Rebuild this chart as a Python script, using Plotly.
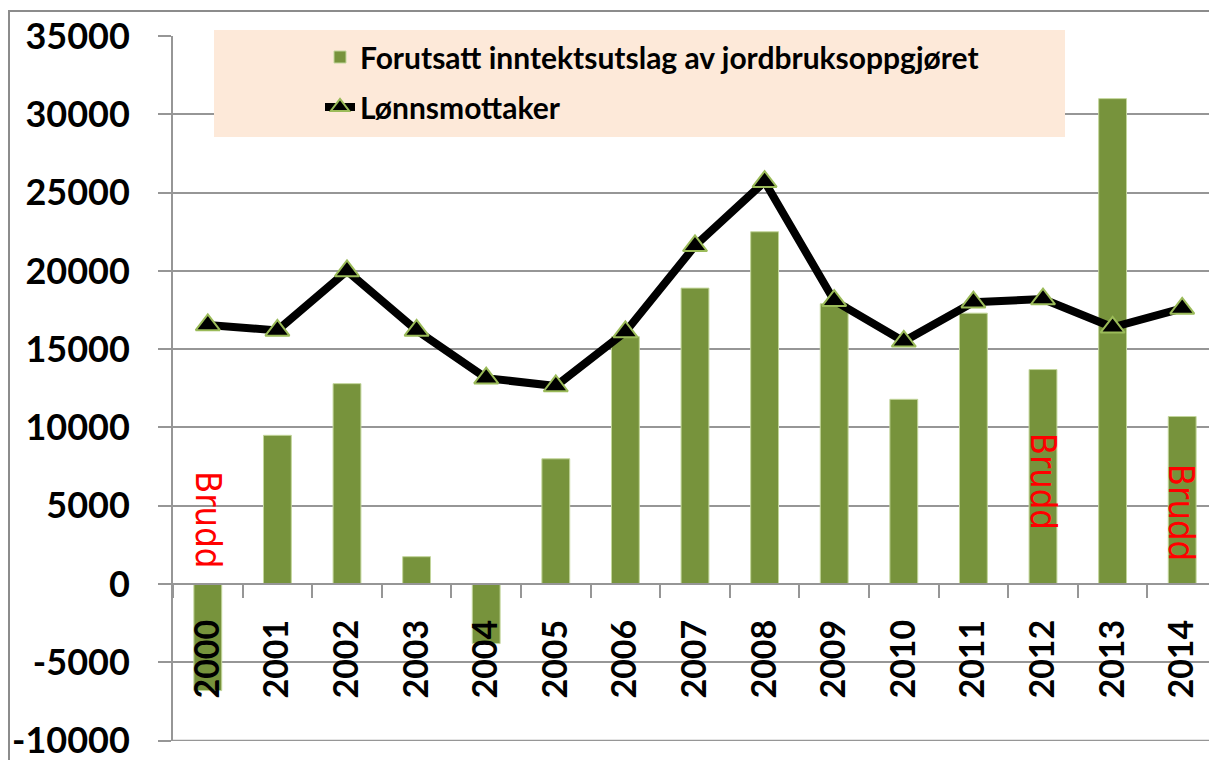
import plotly.graph_objects as go

# ---- data ----
years = ["2000", "2001", "2002", "2003", "2004", "2005", "2006", "2007",
         "2008", "2009", "2010", "2011", "2012", "2013", "2014"]
jordbruk = [-6800, 9500, 12800, 1750, -3800, 8000, 15800, 18900,
            22500, 17900, 11800, 17300, 13700, 31000, 10700]
lonnsmottaker = [16550, 16200, 20000, 16200, 13150, 12650, 16100, 21600,
                 25700, 18100, 15500, 18000, 18200, 16400, 17600]
y_tickvals = [-10000, -5000, 0, 5000, 10000, 15000, 20000, 25000, 30000, 35000]
y_ticktext = ["-10000", "-5000", "0", "5000", "10000", "15000", "20000",
              "25000", "30000", "35000"]
brudd_years = ["2000", "2012", "2014"]
brudd_text = "Brudd"

name_bar = "Forutsatt inntektsutslag av jordbruksoppgjøret"
name_line = "Lønnsmottaker"

# ---- layout geometry (window pixels; page body has an 8px margin) ----
OFF = 8
WIN_W, WIN_H = 1217, 760
W, H = WIN_W - OFF, WIN_H - OFF
PLOT_L, PLOT_R, PLOT_T, PLOT_B = 173, 1217, 36, 741   # window coords
ML = PLOT_L - OFF
MT = PLOT_T - OFF
MR = W - (PLOT_R - OFF)
MB = H - (PLOT_B - OFF)
PW, PH = W - ML - MR, H - MT - MB
Y_MIN, Y_MAX = -10020, 35000


def px_x(x):
    """window x -> paper x"""
    return (x - PLOT_L) / PW


def px_y(y):
    """window y -> paper y"""
    return (PLOT_B - y) / PH


GRID = "#969696"
FONT = "Lato"

fig = go.Figure()
fig.add_trace(go.Bar(
    x=years, y=jordbruk, name=name_bar, width=0.4,
    marker=dict(color="#77933C", line=dict(color="#C3D69B", width=1)),
    legendgroup="a",
))
fig.add_trace(go.Scatter(
    x=years, y=lonnsmottaker, name=name_line, mode="lines+markers",
    line=dict(color="black", width=8),
    marker=dict(symbol="triangle-up", size=21, color="black",
                line=dict(color="#9BBB59", width=2)),
    legendgroup="b",
))

brudd_y = [4100, 6600, 4600]
annotations = []
for yr, yy in zip(brudd_years, brudd_y):
    annotations.append(dict(
        x=years.index(yr), y=yy, xref="x", yref="y", text=brudd_text,
        showarrow=False, textangle=90,
        font=dict(family="DejaVu Sans Condensed, sans-serif",
                  size=36, color="red"),
    ))

shapes = [
    # outer chart border
    dict(type="rect", xref="paper", yref="paper",
         x0=px_x(9), x1=px_x(WIN_W + 30), y0=px_y(WIN_H + 30), y1=px_y(11),
         line=dict(color="#8C8C8C", width=2), fillcolor="rgba(0,0,0,0)",
         layer="below"),
    # bottom gridline (at the lowest tick)
    dict(type="line", xref="paper", yref="y",
         x0=0, x1=1, y0=y_tickvals[0], y1=y_tickvals[0],
         line=dict(color=GRID, width=2), layer="below"),
    # legend background box
    dict(type="rect", xref="paper", yref="paper",
         x0=px_x(214), x1=px_x(1065), y0=px_y(137), y1=px_y(30),
         line=dict(width=0), fillcolor="#FDE9D9", layer="above"),
]

zero_frac = (0 - Y_MIN) / (Y_MAX - Y_MIN)

fig.update_layout(
    width=W, height=H,
    margin=dict(l=ML, r=MR, t=MT, b=MB, pad=0),
    paper_bgcolor="white", plot_bgcolor="white",
    showlegend=True,
    legend=dict(
        x=px_x(320), y=px_y(31), xanchor="left", yanchor="top",
        bgcolor="rgba(0,0,0,0)",
        font=dict(family=FONT, size=30, color="black", weight="bold"),
        traceorder="grouped", tracegroupgap=8,
    ),
    xaxis=dict(
        type="category", anchor="free", position=zero_frac,
        showline=True, linecolor=GRID, linewidth=2,
        ticks="outside", ticklen=13, tickwidth=2, tickcolor=GRID,
        tickson="boundaries", showgrid=False, zeroline=False,
        tickangle=-90, ticklabelstandoff=21,
        tickfont=dict(family=FONT, size=34, color="black", weight="bold"),
        range=[-0.5, 14.5],
    ),
    yaxis=dict(
        range=[Y_MIN, Y_MAX], tickvals=y_tickvals, ticktext=y_ticktext,
        showgrid=True, gridcolor=GRID, gridwidth=2,
        showline=True, linecolor=GRID, linewidth=2,
        ticks="outside", ticklen=13, tickwidth=2, tickcolor=GRID,
        zeroline=False, ticklabelstandoff=21, ticklabeloverflow="allow",
        tickfont=dict(family=FONT, size=36, color="black", weight="bold"),
    ),
    annotations=annotations,
    shapes=shapes,
)

fig.write_html("out.html")
